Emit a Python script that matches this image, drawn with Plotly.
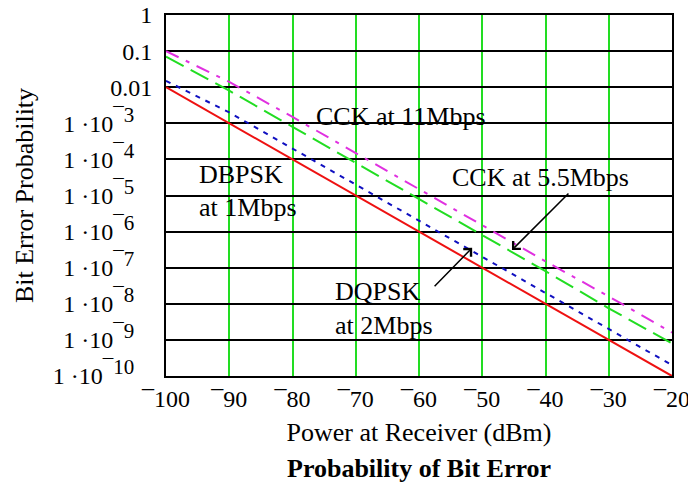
import plotly.graph_objects as go

power_dbm = [-100, -90, -80, -70, -60, -50, -40, -30, -20]
dbpsk_1mbps = [1e-2, 1e-3, 1e-4, 1e-5, 1e-6, 1e-7, 1e-8, 1e-9, 1e-10]
dqpsk_2mbps = [1.5e-2, 2e-3, 2e-4, 2e-5, 2e-6, 2e-7, 2e-8, 2e-9, 2e-10]
cck_5_5mbps = [7e-2, 8e-3, 8e-4, 8e-5, 8e-6, 8e-7, 8e-8, 7.5e-9, 8e-10]
cck_11mbps = [1e-1, 1.4e-2, 1.5e-3, 1.5e-4, 1.5e-5, 1.5e-6, 1.5e-7, 1.6e-8, 1.6e-9]

x_ticks = [-100, -90, -80, -70, -60, -50, -40, -30, -20]
x_ticktext = ["\u00af100", "\u00af90", "\u00af80", "\u00af70", "\u00af60", "\u00af50", "\u00af40", "\u00af30", "\u00af20"]
y_ticks = [1, 0.1, 0.01, 1e-3, 1e-4, 1e-5, 1e-6, 1e-7, 1e-8, 1e-9, 1e-10]
y_exponents = [3, 4, 5, 6, 7, 8, 9, 10]
y_ticktext = ["1", "0.1", "0.01"] + [
    "1 \u00b710<sup><span style='font-size:21px'>\u00af%d</span></sup>\u00a0\u00a0\u00a0" % k
    for k in y_exponents]

FONT = "Liberation Serif"
fig = go.Figure()
fig.add_trace(go.Scatter(x=power_dbm, y=cck_11mbps, mode="lines",
                         line=dict(color="#e030e0", width=2, dash="14px,8px,4px,8px")))
fig.add_trace(go.Scatter(x=power_dbm, y=cck_5_5mbps, mode="lines",
                         line=dict(color="#22dd22", width=2, dash="20px,8px")))
fig.add_trace(go.Scatter(x=power_dbm, y=dqpsk_2mbps, mode="lines",
                         line=dict(color="#1010c0", width=2, dash="5px,6px")))
fig.add_trace(go.Scatter(x=power_dbm, y=dbpsk_1mbps, mode="lines",
                         line=dict(color="#ee1111", width=2)))

tfont = dict(family=FONT, size=26, color="black")
notes = [
    ("CCK at 11Mbps", -76.6, -2.80),
    ("CCK at 5.5Mbps", -55.1, -4.49),
    ("DBPSK", -95.1, -4.43),
    ("at 1Mbps", -95.1, -5.32),
    ("DQPSK", -73.6, -7.67),
    ("at 2Mbps", -73.6, -8.59),
]
for t, xx, yy in notes:
    fig.add_annotation(x=xx, y=yy, text=t, showarrow=False, xanchor="left",
                       yanchor="middle", font=tfont)

fig.add_annotation(x=-51.6, y=-6.45, text="", showarrow=True, ax=-39, ay=40,
                   arrowhead=4, arrowsize=1.4, arrowwidth=1.5, arrowcolor="black")
fig.add_annotation(x=-45.3, y=-6.51, text="", showarrow=True, ax=58, ay=-58,
                   arrowhead=4, arrowsize=1.4, arrowwidth=1.5, arrowcolor="black")

fig.add_annotation(x=0.5, y=-0.255, xref="paper", yref="paper", xanchor="center",
                   yanchor="middle",
                   text="<b>Probability of Bit Error</b>", showarrow=False,
                   font=dict(family=FONT, size=26, color="black"))

fig.update_layout(
    width=696, height=489,
    margin=dict(l=158, r=32, t=7, b=121),
    paper_bgcolor="white", plot_bgcolor="white",
    showlegend=False,
    font=dict(family=FONT, color="black"),
)
fig.update_xaxes(
    range=[-100, -20], tickvals=x_ticks, ticktext=x_ticktext,
    tickfont=dict(family=FONT, size=24), ticks="", ticklabelstandoff=0,
    ticklabeloverflow="allow",
    showgrid=True, gridcolor="#22dd22", gridwidth=2,
    showline=True, linecolor="black", linewidth=2, mirror=True,
    zeroline=False, automargin=False,
    title=dict(text="Power at Receiver (dBm)", font=dict(family=FONT, size=26), standoff=12),
)
fig.update_yaxes(
    type="log", range=[-10, 0], tickvals=y_ticks, ticktext=y_ticktext,
    tickfont=dict(family=FONT, size=24), ticks="", ticklabelstandoff=7,
    ticklabeloverflow="allow",
    showgrid=True, gridcolor="black", gridwidth=2,
    showline=True, linecolor="black", linewidth=2, mirror=True,
    zeroline=False, automargin=False,
    title=dict(text="Bit Error Probability", font=dict(family=FONT, size=26), standoff=12),
)
fig.write_html("out.html")
